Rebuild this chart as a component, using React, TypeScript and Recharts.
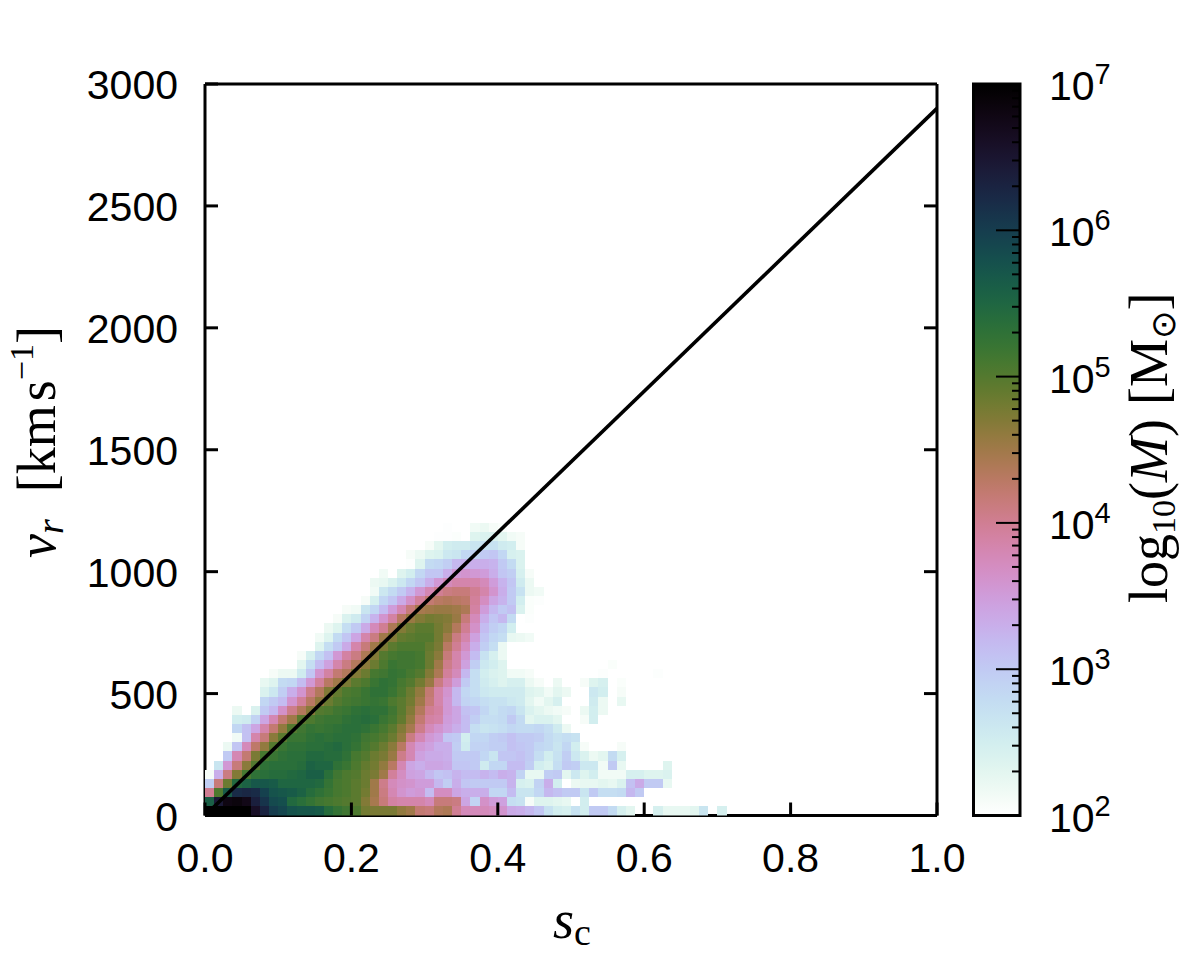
import { ScatterChart, ComposedChart, Scatter, XAxis, YAxis, ReferenceArea } from "recharts"

const SANS = "'Liberation Sans', Arial, sans-serif"
const SERIF = "'Liberation Serif', 'DejaVu Serif', serif"

// histogram bins: 80 x 80 over s_c 0-1 and v_r 0-3000
const X_BIN = 1 / 80
const V_BIN = 3000 / 80

const X_TICKS = [0, 0.2, 0.4, 0.6, 0.8, 1]
const V_TICKS = [0, 500, 1000, 1500, 2000, 2500, 3000]
const DECADES = [2, 3, 4, 5, 6]
const MANTISSAS = [1, 2, 3, 4, 5, 6, 7, 8, 9]

const DIAGONAL_X = [0, 1]
const DIAGONAL_V = [0, 2900]

// first filled column per velocity row (row 0 at the bottom)
const ROW_START = [
  0, 0, 0, 0, 0, 1, 2, 2, 3, 3, 3, 3, 6, 6, 6, 7,
  10, 10, 12, 12, 13, 14, 15, 17, 18, 18, 19, 22, 22, 24, 25, 26,
]

// log10(mass), 0 = empty cell
const LOG_MASS_ROWS = [
  [7,7,7,7,7,6.6,6.3,6,5.9,5.75,5.7,5.7,5.65,5.4,5.25,5.15,5.05,4.8,4.75,4.75,4.75,4.6,4.5,4.2,4.15,4.35,4.4,4,3.75,3.75,3.75,3.7,3.6,3.35,3.3,3.2,3.05,2.7,2.5,2.45,2.7,2.5,3,3,2.8,2.45,2.3,0,0,2.45,2.25,2.25,2.25,2.3,2.65,0,2.45],
  [5.6,6.45,6.8,6.85,6.75,6.35,6.1,5.85,5.8,5.45,5.35,5.25,5.15,5.1,5.05,5,4.95,4.7,4.45,4.15,3.9,3.85,3.85,3.85,3.75,4.15,4.15,4.1,3.4,2.9,3.65,3.5,3.45,2.75,2.7,2.1,2.35,2.35,2.3,2.25,0,2.5],
  [4,5.05,5.65,6.2,6.25,6.2,5.95,5.75,5.7,5.65,5.55,5.4,5.3,5.2,5.1,5.05,4.95,4.8,4.5,4.1,3.8,3.6,3.5,3.55,3.15,3.7,3.7,3.4,3.3,3.3,3.3,2.85,2.85,3.15,2.65,2.65,2.85,3.2,3.1,3,3,2.65,3,2.75,2.75,2.8,3.2,3],
  [2.95,4.15,4.85,5.45,5.55,5.7,5.7,5.65,5.5,5.5,5.5,5.5,5.45,5.25,5.1,5.05,4.95,4.85,4.5,4.05,3.75,3.65,3.6,3.5,3.5,3.2,2.95,3.3,3.05,3,3,3,3,3.25,2.45,2.4,2.9,3.3,2.5,0,2.2,2.25,2.25,2.3,2.25,2.4,3.1,3.35,3,3,2.25],
  [2.1,3.3,4.1,4.7,5.1,5.3,5.35,5.4,5.4,5.45,5.5,5.6,5.6,5.35,5.15,5.05,5,4.85,4.75,4.5,3.95,3.7,3.45,3.4,3.2,3.05,3.1,3.25,3.15,3.15,3.25,3.15,3.3,3.25,2.9,2.25,2.25,2.95,3,2.3,2.6,2.35,2.5,2.15,2.15,2.15,2.45,2.45,2.35,2.35,2.4],
  [2.65,3.55,4.15,4.65,5,5.3,5.35,5.35,5.35,5.4,5.55,5.5,5.5,5.3,5.2,5.05,4.9,4.8,4.6,4.3,3.8,3.4,3.3,3.4,3.4,3.35,3.05,3.05,3,2.55,2.85,2.85,3.15,3.15,2.95,2.5,2.4,2.75,3,2.95,2.6,2.6,2.15,3,2.25,0,0,0,0,2.35],
  [3,3.8,4.2,4.75,5.1,5.2,5.3,5.35,5.35,5.45,5.45,5.4,5.4,5.3,5.1,5,4.85,4.75,4.55,4.05,3.8,3.45,3.35,3.35,3.3,3,3,3,2.85,2.65,3.05,3.05,3.1,3,2.75,2.5,2.7,2.95,2.6,2.4,2.2,2.3,2.8,2.45],
  [2.2,3.05,3.75,4.25,4.6,5,5.2,5.3,5.3,5.35,5.35,5.4,5.45,5.35,5.25,5.1,5,4.85,4.65,4.3,3.8,3.55,3.45,3.3,3.3,2.95,2.55,2.9,2.9,2.95,2.95,3.1,3.05,3,2.85,2.8,2.65,2.85,2.5,2.1,0,0,0,2.1],
  [2.15,3.1,3.85,4.15,4.65,4.95,5.2,5.2,5.3,5.35,5.3,5.35,5.35,5.3,5.15,5.1,5,4.85,4.6,4.1,3.8,3.55,3.45,3.05,3,2.5,2.85,2.85,2.95,3,3.1,3,3,2.95,2.8,2.7,2.75,2.7],
  [2.85,3.1,3.4,3.85,4.2,4.6,5,5.15,5.25,5.2,5.25,5.3,5.35,5.35,5.3,5.2,5.1,4.95,4.7,4.45,4.05,3.75,3.6,3.45,3.3,3.15,2.75,2.65,2.7,2.75,2.85,2.8,2.8,2.85,2.75,2.55,2.2],
  [2.5,2.55,2.9,3.4,3.8,4.2,4.5,4.95,5.05,5.15,5.2,5.2,5.3,5.35,5.4,5.35,5.2,5.1,4.9,4.6,4.2,3.9,3.85,3.5,3.4,3.15,2.95,2.75,2.75,2.8,3,2.8,2.3,2.4,2.4,2.3,0,0,2.1,2.5],
  [2.2,0,2.4,3,3.2,3.65,4.05,4.35,4.65,5,5.05,5.15,5.2,5.3,5.35,5.3,5.3,5.15,4.95,4.7,4.35,4,3.9,3.55,3.4,3.1,3.05,2.85,2.7,2.8,2.85,2.65,2.4,2.3,2.2,2.15,2.1,0,2.2,2.5,2.2],
  [2.85,3,3.15,3.6,3.95,4.3,4.6,4.85,5,5.1,5.15,5.2,5.25,5.2,5.05,4.95,4.8,4.5,4.15,3.85,3.55,3.2,2.9,2.85,2.75,2.7,2.7,2.6,2.55,2.3,2.15,2.3,2.45,0,0,0,2.55,2.2,0,2.25],
  [2.4,2.6,2.95,3.3,3.6,4.05,4.35,4.7,4.9,5.05,5.1,5.2,5.3,5.3,5.2,5.05,4.85,4.6,4.2,3.85,3.6,3.2,2.85,2.75,2.6,2.55,2.55,2.55,2.55,2.35,2.3,2.15,2.3,2.2,0,0,2.6,2.5,0,2.1],
  [2.25,2.35,2.8,2.85,3.15,3.55,3.95,4.3,4.5,4.75,4.95,5.05,5.2,5.3,5.25,5.1,5,4.8,4.55,4.1,3.8,3.5,3,2.75,2.55,2.45,2.35,2.45,2.45,2.2,2.1,0,2.2,0,0,2.1,2.35,2.45,0,2.05],
  [2.1,2.2,2.2,2.55,3.05,3.6,3.9,4.2,4.35,4.7,4.85,5.1,5.15,5.25,5.2,5.1,5,4.7,4.4,3.95,3.75,3.2,2.75,2.5,2.4,2.35,2.15,2.15,2.1,0,0,0,0,0,0,0,2.03,0,0,0,0,0,2.03],
  [2.3,2.75,3.15,3.45,3.85,4.1,4.35,4.65,4.85,5.05,5.2,5.15,5.15,5.1,4.85,4.5,4.05,3.85,3.45,2.95,2.6,2.5,2.35,0,0,0,0,0,0,0,0,0,0,0,2.05],
  [2.1,2.45,2.85,3.1,3.55,3.9,4.1,4.4,4.7,5,5.1,5.15,5.15,5.1,4.85,4.65,4.15,3.85,3.55,3.15,2.7,2.45,2.2],
  [2.35,2.75,3,3.35,3.85,4.15,4.5,4.75,4.95,5.05,5.05,5.05,4.9,4.75,4.3,4,3.7,3.3,2.95,2.75,2.2],
  [2.15,2.35,2.8,3.05,3.4,3.85,4.1,4.5,4.7,4.9,4.95,5,5,4.8,4.5,4.1,3.85,3.45,3.05,2.85,2.75,2.25,2.2,2.15],
  [2.2,2.35,2.75,3,3.35,3.75,4,4.4,4.7,4.85,4.95,4.95,4.8,4.65,4.35,4,3.65,3.15,2.95,2.85,2.5],
  [2.1,2.4,2.55,2.9,3.25,3.6,3.9,4.3,4.55,4.7,4.8,4.75,4.7,4.55,4.15,3.75,3.3,3.05,3.2,2.8,0,2.03],
  [2.1,2.15,2.65,2.85,3.15,3.5,3.8,4.15,4.45,4.5,4.55,4.55,4.5,4.4,3.9,3.5,3.2,3,3.1,2.4,2.05],
  [2.1,2.45,2.85,3.05,3.35,3.65,3.95,4.2,4.3,4.35,4.3,4.25,3.95,3.7,3.4,3.25,3,2.5,2.05,2.03],
  [2.15,2.6,2.8,3,3.25,3.55,3.8,4,4.1,4.15,4.15,4,3.85,3.6,3.3,3,2.7,2.2,2.15],
  [2.2,2.25,2.4,2.6,2.85,3.05,3.3,3.55,3.75,3.85,3.85,3.85,3.75,3.5,3.25,3.05,2.55,2.2],
  [2.15,0,2.35,2.5,2.85,3.05,3.05,3.3,3.55,3.6,3.55,3.5,3.3,3.05,2.95,2.45,2.1],
  [2.03,2.35,2.8,2.85,2.95,3.2,3.25,3.3,3.3,3.25,3,2.8,2.4],
  [2.1,2.2,2.35,2.4,2.6,2.65,2.85,2.9,3,3.05,2.85,2.45,2.4],
  [2.1,2.3,2.5,2.55,2.55,2.65,2.7,2.7,2.55,2.5,2.1],
  [2.02,2.02,2.04,0,2.35,2.4,2.4,2.3,2.15,2.1],
  [2.02,0,0,2.15,2.2,2.1,2.05],
]

// plot box in page pixels
const PLOT = { left: 205, right: 937, top: 84, bottom: 815.5 }
const CELL_W = (PLOT.right - PLOT.left) / 80
const CELL_H = (PLOT.bottom - PLOT.top) / 80

// gnuplot/matplotlib cubehelix, reversed over 10^2 .. 10^7
function logMassColor(logMass: number) {
  const f = 1 - (logMass - 2) / 5
  const phi = 2 * Math.PI * (0.5 / 3 - 1.5 * f)
  const a = (f * (1 - f)) / 2
  const c = Math.cos(phi)
  const s = Math.sin(phi)
  const ch = (v: number) => Math.round(255 * Math.min(1, Math.max(0, v)))
  const r = ch(f + a * (-0.14861 * c + 1.78277 * s))
  const g = ch(f + a * (-0.29227 * c - 0.90649 * s))
  const b = ch(f + a * (1.97294 * c))
  return `rgb(${r},${g},${b})`
}

const heatCells = LOG_MASS_ROWS.flatMap((row, j) =>
  row.flatMap((logMass, i) =>
    logMass > 0
      ? [{ x: (ROW_START[j] + i + 0.5) * X_BIN, v: (j + 0.5) * V_BIN, logMass }]
      : []
  )
)
const diagonal = DIAGONAL_X.map((x, i) => ({ x, v: DIAGONAL_V[i] }))

const colorbarTicks = [
  ...DECADES.flatMap((d) => MANTISSAS.map((m) => m * 10 ** d)),
  1e7,
]
const gradientStops = Array.from({ length: 51 }, (_, i) => i / 50)

function HeatCell(props: any) {
  return (
    <rect
      x={props.cx - CELL_W / 2}
      y={props.cy - CELL_H / 2}
      width={CELL_W}
      height={CELL_H}
      fill={logMassColor(props.payload.logMass)}
      shapeRendering="crispEdges"
    />
  )
}

const STROKE = 3
const TICK_LEN = 13

function BottomTick({ x, payload }: any) {
  return (
    <g>
      <line x1={x} x2={x} y1={PLOT.bottom} y2={PLOT.bottom - TICK_LEN} stroke="#000" strokeWidth={STROKE} />
      <text x={x} y={872} textAnchor="middle" fontFamily={SANS} fontSize={41} fill="#000">
        {payload.value.toFixed(1)}
      </text>
    </g>
  )
}

function TopTick({ x }: any) {
  return <line x1={x} x2={x} y1={PLOT.top} y2={PLOT.top + TICK_LEN} stroke="#000" strokeWidth={STROKE} />
}

function LeftTick({ y, payload }: any) {
  return (
    <g>
      <line x1={PLOT.left} x2={PLOT.left + TICK_LEN} y1={y} y2={y} stroke="#000" strokeWidth={STROKE} />
      <text x={178} y={y + 15} textAnchor="end" fontFamily={SANS} fontSize={41} fill="#000">
        {payload.value}
      </text>
    </g>
  )
}

function RightTick({ y }: any) {
  return <line x1={PLOT.right} x2={PLOT.right - TICK_LEN} y1={y} y2={y} stroke="#000" strokeWidth={STROKE} />
}

// colorbar chart starts at page x 960, its axis sits at 60
function ColorbarTick({ y, payload }: any) {
  const exponent = Math.log10(payload.value)
  const major = Math.abs(exponent - Math.round(exponent)) < 1e-6
  const showLine = Math.round(exponent) !== 2 || !major
  return (
    <g>
      {showLine && payload.value < 1e7 && (
        <line x1={60} x2={60 - (major ? 24 : 8)} y1={y} y2={y} stroke="#000" strokeWidth={2} />
      )}
      {major && (
        <text x={89} y={y + 16} fontFamily={SANS} fontSize={41} fill="#000">
          10
          <tspan dy={-16} fontSize={29}>
            {Math.round(exponent)}
          </tspan>
        </text>
      )}
    </g>
  )
}

function VelocityLabel() {
  return (
    <text transform="translate(55,558) rotate(-90)" fontFamily={SERIF} fontSize={54} fill="#000">
      <tspan fontStyle="italic">v</tspan>
      <tspan fontStyle="italic" fontSize={38} dy={8}>r</tspan>
      <tspan dy={-8} dx={27}>[km</tspan>
      <tspan dx={4}>s</tspan>
      <tspan dy={-22} fontSize={34}>−1</tspan>
      <tspan dy={22}>]</tspan>
    </text>
  )
}

function ScLabel() {
  return (
    <text x={553} y={938} fontFamily={SERIF} fontSize={54} fill="#000">
      <tspan fontStyle="italic">s</tspan>
      <tspan fontSize={38} dy={7}>c</tspan>
    </text>
  )
}

function MassLabel() {
  return (
    <text transform="translate(207,603) rotate(-90)" fontFamily={SERIF} fontSize={54} fill="#000">
      log
      <tspan fontSize={34} dy={8}>10</tspan>
      <tspan dy={-8}>(</tspan>
      <tspan fontStyle="italic">M</tspan>
      <tspan>)</tspan>
      <tspan dx={14}>[M</tspan>
      <tspan fontSize={34} dy={8} fontFamily="'DejaVu Sans', sans-serif">⊙</tspan>
      <tspan dy={-8}>]</tspan>
    </text>
  )
}

export default function App() {
  return (
    <div style={{ position: "absolute", left: 0, top: 0, width: 1200, height: 959, background: "#fff" }}>
      <div style={{ position: "absolute", left: 0, top: 0 }}>
        <ScatterChart
          width={1000}
          height={959}
          margin={{ left: PLOT.left - 60, right: 1000 - PLOT.right - 1, top: PLOT.top - 1, bottom: 959 - PLOT.bottom - 60 }}
        >
          <Scatter data={heatCells} shape={HeatCell} isAnimationActive={false} />
          <XAxis
            type="number"
            dataKey="x"
            domain={[0, 1]}
            ticks={X_TICKS}
            interval={0}
            height={60}
            tickSize={0}
            tickLine={false}
            tick={BottomTick}
            axisLine={{ stroke: "#000", strokeWidth: STROKE }}
            label={ScLabel}
            allowDataOverflow
          />
          <XAxis
            xAxisId="top"
            orientation="top"
            type="number"
            domain={[0, 1]}
            ticks={X_TICKS.slice(1, -1)}
            interval={0}
            height={1}
            tickSize={0}
            tickLine={false}
            tick={TopTick}
            axisLine={{ stroke: "#000", strokeWidth: STROKE }}
            allowDataOverflow
          />
          <YAxis
            type="number"
            dataKey="v"
            domain={[0, 3000]}
            ticks={V_TICKS}
            interval={0}
            width={60}
            tickSize={0}
            tickLine={false}
            tick={LeftTick}
            axisLine={{ stroke: "#000", strokeWidth: STROKE }}
            label={VelocityLabel}
            allowDataOverflow
          />
          <YAxis
            yAxisId="right"
            orientation="right"
            type="number"
            domain={[0, 3000]}
            ticks={V_TICKS.slice(1, -1)}
            interval={0}
            width={1}
            tickSize={0}
            tickLine={false}
            tick={RightTick}
            axisLine={{ stroke: "#000", strokeWidth: STROKE }}
            allowDataOverflow
          />
          <Scatter
            data={diagonal}
            line={{ stroke: "#000", strokeWidth: 3.6 }}
            shape={() => null}
            isAnimationActive={false}
          />
        </ScatterChart>
      </div>
      <div style={{ position: "absolute", left: 960, top: 0 }}>
        <ComposedChart
          width={240}
          height={959}
          margin={{ left: 13.5, right: 240 - 61, top: PLOT.top, bottom: 959 - PLOT.bottom }}
          data={[{ x: 0 }, { x: 1 }]}
        >
          <defs>
            <linearGradient id="cbGradient" x1="0" y1="1" x2="0" y2="0">
              {gradientStops.map((t) => (
                <stop key={t} offset={t} stopColor={logMassColor(2 + 5 * t)} />
              ))}
            </linearGradient>
          </defs>
          <XAxis type="number" dataKey="x" domain={[0, 1]} hide />
          <YAxis
            orientation="right"
            scale="log"
            type="number"
            domain={[100, 1e7]}
            ticks={colorbarTicks}
            interval={0}
            width={1}
            tickSize={0}
            tickLine={false}
            axisLine={false}
            tick={ColorbarTick}
            label={MassLabel}
            allowDataOverflow
          />
          <ReferenceArea
            x1={0}
            x2={1}
            y1={100}
            y2={1e7}
            fill="url(#cbGradient)"
            fillOpacity={1}
            stroke="#000"
            strokeWidth={STROKE}
          />
        </ComposedChart>
      </div>
    </div>
  )
}
